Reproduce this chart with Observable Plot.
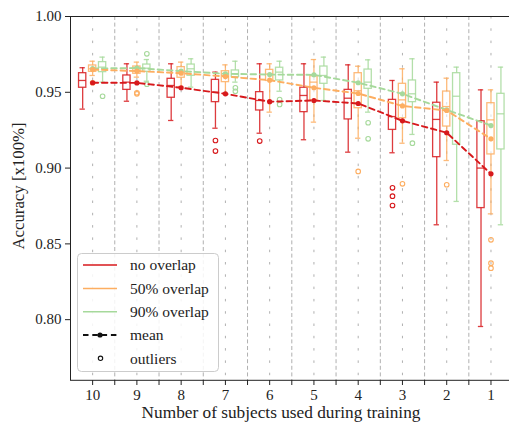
<!DOCTYPE html>
<html>
<head>
<meta charset="utf-8">
<script src="https://cdn.jsdelivr.net/npm/d3@7"></script>
<script src="https://cdn.jsdelivr.net/npm/@observablehq/plot@0.6"></script>
<style>
  html, body { margin: 0; padding: 0; background: white; overflow: hidden; }
  #chart svg { display: block; max-width: none; }
  #chart svg text { font-family: 'Liberation Serif', serif; }
</style>
</head>
<body>
<div id="chart"></div>
<script>
// ---------- data ----------
const groups = ["10", "9", "8", "7", "6", "5", "4", "3", "2", "1"];
const seriesNames = ["no overlap", "50% overlap", "90% overlap"];
const seriesColors = ["#d7191c", "#fdae61", "#a6d99b"];

// no overlap
const noLo   = [0.9389, 0.9441, 0.9314, 0.9263, 0.9230, 0.9187, 0.9105, 0.9101, 0.8626, 0.7955];
const noQ1   = [0.9530, 0.9516, 0.9464, 0.9435, 0.9380, 0.9369, 0.9321, 0.9252, 0.9072, 0.8736];
const noMed  = [0.9578, 0.9567, 0.9545, 0.9501, 0.9446, 0.9479, 0.9461, 0.9340, 0.9321, 0.9000];
const noQ3   = [0.9626, 0.9611, 0.9589, 0.9582, 0.9501, 0.9530, 0.9516, 0.9450, 0.9431, 0.9309];
const noHi   = [0.9662, 0.9688, 0.9688, 0.9633, 0.9688, 0.9688, 0.9681, 0.9578, 0.9567, 0.9516];
const noMean = [0.9563, 0.9562, 0.9530, 0.9490, 0.9438, 0.9446, 0.9426, 0.9312, 0.9233, 0.8962];
const noOut  = [[], [], [], [0.9182, 0.9112], [0.9178], [], [], [0.8870, 0.8815, 0.8753], [], []];

// 50% overlap
const o50Lo   = [0.9611, 0.9600, 0.9538, 0.9490, 0.9369, 0.9303, 0.9197, 0.9164, 0.9050, 0.8698];
const o50Q1   = [0.9635, 0.9622, 0.9596, 0.9567, 0.9575, 0.9446, 0.9395, 0.9329, 0.9274, 0.9090];
const o50Med  = [0.9655, 0.9644, 0.9633, 0.9611, 0.9620, 0.9567, 0.9510, 0.9450, 0.9406, 0.9318];
const o50Q3   = [0.9677, 0.9670, 0.9666, 0.9639, 0.9648, 0.9606, 0.9626, 0.9556, 0.9505, 0.9428];
const o50Hi   = [0.9705, 0.9699, 0.9699, 0.9681, 0.9688, 0.9716, 0.9672, 0.9655, 0.9593, 0.9516];
const o50Mean = [0.9650, 0.9640, 0.9626, 0.9604, 0.9580, 0.9530, 0.9492, 0.9410, 0.9380, 0.9193];
const o50Out  = [[0.9563], [0.9497, 0.9490], [], [], [], [], [0.8978], [0.8896], [0.8890], [0.8527, 0.8373, 0.8340]];

// 90% overlap
const o90Lo   = [0.9567, 0.9573, 0.9534, 0.9567, 0.9507, 0.9446, 0.9369, 0.9222, 0.8780, 0.8626];
const o90Q1   = [0.9633, 0.9635, 0.9609, 0.9600, 0.9578, 0.9556, 0.9523, 0.9435, 0.9154, 0.9123];
const o90Med  = [0.9666, 0.9659, 0.9655, 0.9622, 0.9633, 0.9611, 0.9567, 0.9490, 0.9474, 0.9358];
const o90Q3   = [0.9699, 0.9683, 0.9683, 0.9644, 0.9662, 0.9670, 0.9650, 0.9578, 0.9626, 0.9490];
const o90Hi   = [0.9732, 0.9716, 0.9721, 0.9705, 0.9705, 0.9732, 0.9714, 0.9721, 0.9666, 0.9666];
const o90Mean = [0.9657, 0.9660, 0.9640, 0.9622, 0.9617, 0.9615, 0.9563, 0.9490, 0.9384, 0.9281];
const o90Out  = [[0.9474], [0.9754, 0.9553], [], [0.9530, 0.9507], [0.9452, 0.9420], [], [0.9299, 0.9193], [0.9164], [], []];

const yTicks = [0.80, 0.85, 0.90, 0.95, 1.00];

// ---------- build tables ----------
const seriesData = [
  {lo: noLo, q1: noQ1, med: noMed, q3: noQ3, hi: noHi, mean: noMean, out: noOut},
  {lo: o50Lo, q1: o50Q1, med: o50Med, q3: o50Q3, hi: o50Hi, mean: o50Mean, out: o50Out},
  {lo: o90Lo, q1: o90Q1, med: o90Med, q3: o90Q3, hi: o90Hi, mean: o90Mean, out: o90Out}
];
const offsets = [-0.225, 0, 0.225];
const boxHalf = 0.082, capHalf = 0.06;

const boxes = [], outliers = [], means = [];
seriesData.forEach((sd, s) => {
  groups.forEach((g, i) => {
    const pos = i + offsets[s];
    boxes.push({s, i, pos, lo: sd.lo[i], q1: sd.q1[i], med: sd.med[i], q3: sd.q3[i], hi: sd.hi[i]});
    sd.out[i].forEach(v => outliers.push({s, pos, v}));
    means.push({s, i, v: sd.mean[i]});
  });
});

const centers = d3.range(groups.length);
const separators = d3.range(groups.length - 1).map(i => i + 0.5);
const xDomain = [-0.5, groups.length - 0.5];
const yDomain = [0.76, 1.0];
const meanDash = "5.5,3.8";

const marks = [
  Plot.ruleX(centers, {x: d => d, stroke: "#b0b0b0", strokeWidth: 1, strokeDasharray: "2.5,9.8"}),
  Plot.ruleX(separators, {x: d => d, stroke: "#b0b0b0", strokeWidth: 1, strokeDasharray: "4,2.6"})
];
[0, 1, 2].forEach(s => {
  const b = boxes.filter(d => d.s === s);
  const o = {stroke: seriesColors[s], strokeWidth: 1.3, strokeOpacity: 0.85};
  marks.push(
    Plot.ruleX(b, {x: "pos", y1: "lo", y2: "q1", ...o}),
    Plot.ruleX(b, {x: "pos", y1: "q3", y2: "hi", ...o}),
    Plot.ruleY(b, {y: "lo", x1: d => d.pos - capHalf, x2: d => d.pos + capHalf, ...o}),
    Plot.ruleY(b, {y: "hi", x1: d => d.pos - capHalf, x2: d => d.pos + capHalf, ...o}),
    Plot.rect(b, {x1: d => d.pos - boxHalf, x2: d => d.pos + boxHalf, y1: "q1", y2: "q3", fill: "white", fillOpacity: 0.6, ...o}),
    Plot.ruleY(b, {y: "med", x1: d => d.pos - boxHalf, x2: d => d.pos + boxHalf, ...o}),
    Plot.dot(outliers.filter(d => d.s === s), {x: "pos", y: "v", r: 2.3, stroke: seriesColors[s], strokeWidth: 1.1, fill: "none"})
  );
});
[2, 1, 0].forEach(s => {
  const m = means.filter(d => d.s === s);
  marks.push(
    Plot.line(m, {x: "i", y: "v", stroke: seriesColors[s], strokeWidth: 1.9, strokeDasharray: meanDash}),
    Plot.dot(m, {x: "i", y: "v", r: 2.6, fill: seriesColors[s], stroke: "none"})
  );
});
marks.push(
  Plot.ruleX([xDomain[0]], {x: d => d, stroke: "#222", strokeWidth: 1}),
  Plot.ruleY([yDomain[1]], {y: d => d, stroke: "#222", strokeWidth: 1}),
  Plot.ruleY([yDomain[0]], {y: d => d, stroke: "#222", strokeWidth: 1}),
  Plot.axisX({
    ticks: centers.concat(separators),
    tickFormat: d => Number.isInteger(d) ? groups[d] : "",
    tickSize: 5, tickPadding: 4, label: null, stroke: "#222", fontSize: 15
  }),
  Plot.axisY({
    ticks: yTicks, tickFormat: d3.format(".2f"),
    tickSize: 5, tickPadding: 4, label: null, stroke: "#222", fontSize: 15
  })
);

const chart = Plot.plot({
  width: 509, height: 424,
  marginLeft: 70, marginRight: 0, marginTop: 16, marginBottom: 44,
  x: {type: "linear", domain: xDomain, range: [70, 512.6]},
  y: {domain: yDomain, range: [379.8, 16]},
  style: {fontFamily: "'Liberation Serif', serif", fontSize: "15px", background: "white", color: "#222", overflow: "hidden"},
  marks
});
document.getElementById("chart").appendChild(chart);

// ---------- axis titles and legend ----------
const svg = d3.select(chart);
svg.append("text")
  .attr("x", 281).attr("y", 418)
  .attr("text-anchor", "middle")
  .style("font-size", "17.3px").attr("fill", "#222")
  .text("Number of subjects used during training");
svg.append("text")
  .attr("transform", "translate(24,186) rotate(-90)")
  .attr("text-anchor", "middle")
  .style("font-size", "16.8px").attr("fill", "#222")
  .text("Accuracy [x100%]");

const lg = svg.append("g").attr("fill", "#222");
lg.append("rect").attr("x", 77.5).attr("y", 253.5).attr("width", 141).attr("height", 118).attr("rx", 4)
  .attr("fill", "white").attr("fill-opacity", 0.85).attr("stroke", "#cccccc");
const rowY = [265, 288.5, 311.8, 335, 358.3];
const addLabel = (y, t) => lg.append("text").attr("x", 130).attr("y", y).attr("dy", "0.35em")
  .attr("text-anchor", "start").style("font-size", "15.5px").text(t);
seriesNames.forEach((name, k) => {
  lg.append("line").attr("x1", 83).attr("x2", 117).attr("y1", rowY[k]).attr("y2", rowY[k])
    .attr("stroke", seriesColors[k]).attr("stroke-width", 1.6);
  addLabel(rowY[k], name);
});
lg.append("line").attr("x1", 83).attr("x2", 117).attr("y1", rowY[3]).attr("y2", rowY[3])
  .attr("stroke", "#111").attr("stroke-width", 1.9).attr("stroke-dasharray", meanDash);
lg.append("circle").attr("cx", 100).attr("cy", rowY[3]).attr("r", 2.6).attr("fill", "#111");
addLabel(rowY[3], "mean");
lg.append("circle").attr("cx", 100.5).attr("cy", rowY[4]).attr("r", 2.2).attr("fill", "none").attr("stroke", "#111").attr("stroke-width", 1.1);
addLabel(rowY[4], "outliers");
</script>
</body>
</html>
